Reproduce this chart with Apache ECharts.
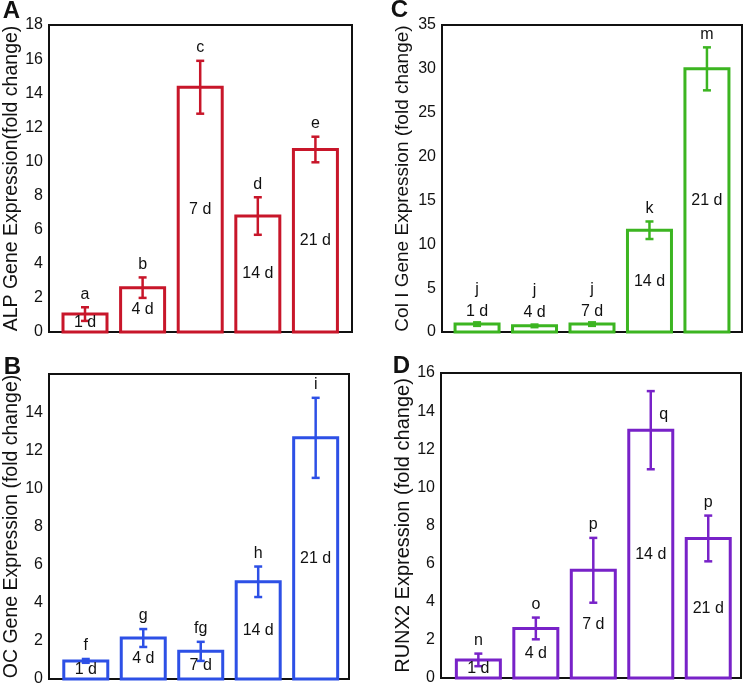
<!DOCTYPE html>
<html>
<head>
<meta charset="utf-8">
<script src="https://cdn.jsdelivr.net/npm/echarts@6/dist/echarts.min.js"></script>
<style>html,body{margin:0;padding:0;background:#fff;}#c{width:744px;height:687px;}</style>
</head>
<body>
<div id="c"></div>
<script>
const categories = ['1 d', '4 d', '7 d', '14 d', '21 d'];
const positions = [1, 2, 3, 4, 5];

const alpMean = [1.05, 2.6, 14.35, 6.8, 10.7];
const alpErr = [0.4, 0.6, 1.55, 1.1, 0.75];
const alpLetters = ['a', 'b', 'c', 'd', 'e'];

const colMean = [0.9, 0.7, 0.9, 11.6, 30.0];
const colErr = [0.2, 0.15, 0.2, 1.0, 2.45];
const colLetters = ['j', 'j', 'j', 'k', 'm'];

const ocMean = [0.95, 2.15, 1.45, 5.1, 12.65];
const ocErr = [0.1, 0.47, 0.5, 0.8, 2.1];
const ocLetters = ['f', 'g', 'fg', 'h', 'i'];

const runxMean = [0.95, 2.6, 5.65, 13.0, 7.32];
const runxErr = [0.33, 0.57, 1.7, 2.05, 1.2];
const runxLetters = ['n', 'o', 'p', 'q', 'p'];

const yTicksA = {max: 18, interval: 2};
const yTicksC = {max: 35, interval: 5};
const yTicksB = {max: 16, interval: 2};
const yTicksD = {max: 16, interval: 2};

const FONT = '"Liberation Sans", Arial, Helvetica, sans-serif';

const panels = [
  {key: 'A', mean: alpMean, err: alpErr, letters: alpLetters, ticks: yTicksA, showMax: true,
   title: 'ALP Gene Expression(fold change)', color: '#c8162a', titleSize: 19.5, nameGap: 25,
   grid: {left: 49, top: 25, width: 303, height: 307}, xr: [0.375, 5.635], beside: [], tag: [11.5, 11]},
  {key: 'C', mean: colMean, err: colErr, letters: colLetters, ticks: yTicksC, showMax: true,
   title: 'Col I Gene Expression (fold change)', color: '#3cb521', titleSize: 19, nameGap: 30,
   grid: {left: 442, top: 25, width: 300, height: 307}, xr: [0.39, 5.61], beside: [], tag: [399.5, 10]},
  {key: 'B', mean: ocMean, err: ocErr, letters: ocLetters, ticks: yTicksB, showMax: false,
   title: 'OC Gene Expression (fold change)', color: '#2d50e6', titleSize: 19.5, nameGap: 25,
   grid: {left: 49, top: 374, width: 300, height: 305}, xr: [0.36, 5.58], beside: [], tag: [12.5, 367]},
  {key: 'D', mean: runxMean, err: runxErr, letters: runxLetters, ticks: yTicksD, showMax: true,
   title: 'RUNX2 Expression (fold change)', color: '#7822c8', titleSize: 20, nameGap: 27,
   grid: {left: 441, top: 373, width: 300, height: 305}, xr: [0.35, 5.57], beside: [3], tag: [401.5, 366.5]}
];

const grids = [], xAxes = [], yAxes = [], series = [], graphics = [];
const BAR_HALF = 22;

panels.forEach((p, i) => {
  grids.push(Object.assign({show: true, borderColor: '#111', borderWidth: 2, backgroundColor: 'transparent',
    containLabel: false, outerBoundsMode: 'none'}, p.grid));
  xAxes.push({type: 'value', gridIndex: i, min: p.xr[0], max: p.xr[1],
    axisLine: {show: false}, axisTick: {show: false}, axisLabel: {show: false}, splitLine: {show: false}});
  yAxes.push({type: 'value', gridIndex: i, min: 0, max: p.ticks.max, interval: p.ticks.interval,
    name: p.title, nameLocation: 'middle', nameGap: p.nameGap, nameRotate: 90,
    nameTextStyle: {fontSize: p.titleSize, fontFamily: FONT, color: '#111'},
    axisLine: {show: false}, axisTick: {show: false}, splitLine: {show: false},
    axisLabel: {fontSize: 16, fontFamily: FONT, color: '#111', margin: 6, showMaxLabel: p.showMax}});

  const cData = positions.map((x, k) => [x, p.mean[k], p.err[k], k]);
  series.push({type: 'custom', xAxisIndex: i, yAxisIndex: i, data: cData, z: 5, clip: false,
    encode: {x: 0, y: 1},
    renderItem: function (params, api) {
      const x = api.value(0), m = api.value(1), e = api.value(2), k = api.value(3);
      const top = api.coord([x, m + e]);
      const bot = api.coord([x, m - e]);
      const mid = api.coord([x, m]);
      const base = api.coord([x, 0]);
      const cap = 4;
      const ls = {stroke: p.color, lineWidth: 2.5};
      const children = [
        {type: 'rect', shape: {x: mid[0] - BAR_HALF, y: mid[1], width: BAR_HALF * 2, height: base[1] - mid[1]},
         style: {fill: '#fff', stroke: p.color, lineWidth: 3}},
        {type: 'line', shape: {x1: top[0], y1: top[1], x2: bot[0], y2: bot[1]}, style: ls},
        {type: 'line', shape: {x1: top[0] - cap, y1: top[1], x2: top[0] + cap, y2: top[1]}, style: ls},
        {type: 'line', shape: {x1: bot[0] - cap, y1: bot[1], x2: bot[0] + cap, y2: bot[1]}, style: ls}
      ];
      const barPx = base[1] - mid[1];
      let dayY, letterX = top[0], letterY;
      const dayAbove = barPx < 14;
      if (dayAbove) {
        dayY = mid[1] - 13;
        letterY = dayY - 22;
      } else {
        dayY = (mid[1] + base[1]) / 2;
        letterY = top[1] - 13;
      }
      if (p.beside.indexOf(k) >= 0) {
        letterX = mid[0] + 13;
        letterY = mid[1] - 16;
      }
      children.push({type: 'text', style: {text: categories[k], x: mid[0], y: dayY,
        align: 'center', verticalAlign: 'middle', font: '16px ' + FONT, fill: '#111'}});
      children.push({type: 'text', style: {text: p.letters[k], x: letterX, y: letterY,
        align: 'center', verticalAlign: 'middle', font: '16px ' + FONT, fill: '#111'}});
      return {type: 'group', children: children};
    }});

  graphics.push({type: 'text', x: p.tag[0], y: p.tag[1], z: 10,
    style: {text: p.key, align: 'center', verticalAlign: 'middle',
      font: 'bold 24px ' + FONT, fill: '#111'}});
});

const chart = echarts.init(document.getElementById('c'), null, {renderer: 'canvas'});
chart.setOption({
  animation: false,
  backgroundColor: '#fff',
  grid: grids,
  xAxis: xAxes,
  yAxis: yAxes,
  series: series,
  graphic: graphics
});
</script>
</body>
</html>
